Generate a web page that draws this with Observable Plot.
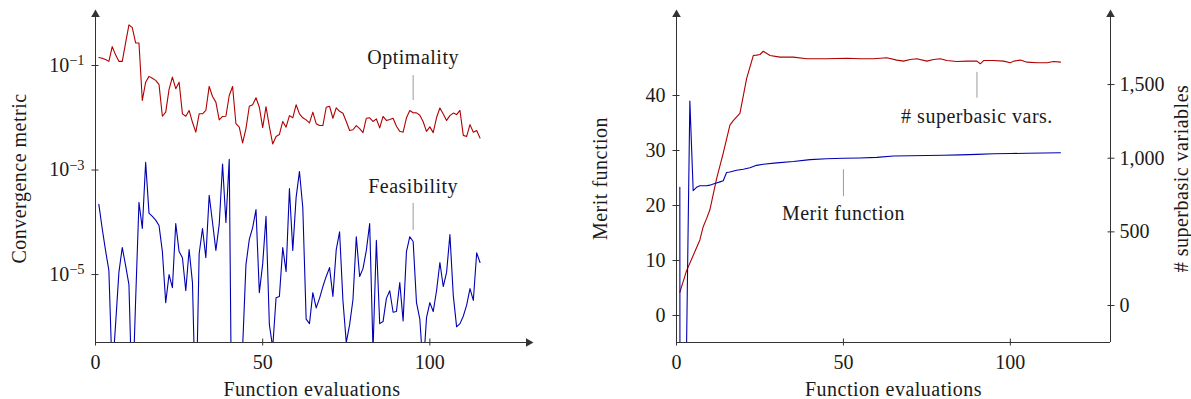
<!DOCTYPE html>
<html><head><meta charset="utf-8">
<script src="https://cdn.jsdelivr.net/npm/d3@7"></script>
<script src="https://cdn.jsdelivr.net/npm/@observablehq/plot@0.6"></script>
<style>
body{margin:0;background:#fff;}
#wrap{display:flex;width:1191px;height:399px;overflow:hidden;}
#wrap svg{font-family:"Liberation Serif",serif;overflow:visible;}
.lbl{letter-spacing:0.5px;}
</style></head><body><div id="wrap"></div>
<script>
// ---------- data ----------
const evaluations = d3.range(1, 116);
const optimality = [
 0.142,0.138,0.13,0.12,0.23,0.16,0.12,0.12,0.27,0.60,
 0.53,0.27,0.27,0.0214,0.048,0.062,0.057,0.052,0.043,0.0107,
 0.0128,0.035,0.060,0.036,0.048,0.0119,0.0107,0.0138,0.0082,0.0053,
 0.0119,0.0119,0.0138,0.040,0.0255,0.0199,0.0091,0.0106,0.0107,0.0267,
 0.0396,0.0077,0.0066,0.0033,0.0062,0.0166,0.0177,0.0241,0.0159,0.0065,
 0.0163,0.0068,0.00315,0.0044,0.0048,0.0085,0.0066,0.011,0.010,0.0177,
 0.0119,0.010,0.0091,0.0080,0.0128,0.0077,0.0071,0.0071,0.0159,0.0166,
 0.0098,0.0155,0.0133,0.0122,0.0085,0.0057,0.0059,0.0071,0.0062,0.0052,
 0.0098,0.010,0.0085,0.0095,0.0064,0.0106,0.0089,0.0093,0.0098,0.0069,
 0.0055,0.0053,0.010,0.0138,0.0125,0.0124,0.0112,0.0084,0.0055,0.0067,
 0.0052,0.0101,0.0154,0.0118,0.0089,0.0110,0.0123,0.0115,0.0138,0.0046,
 0.0044,0.0074,0.0053,0.0057,0.0041];
const feasibility = [
 2.2e-4,7.6e-5,2.9e-5,1.2e-5,1.2e-7,1.1e-6,1.1e-5,3.3e-5,1.5e-5,6.4e-6,
 3.1e-8,3.2e-6,2.4e-4,7.6e-5,1.4e-3,1.5e-4,1.3e-4,1.1e-4,8.7e-5,2.75e-5,
 2.9e-6,1.0e-5,5.6e-6,9.5e-5,2.75e-5,2.1e-5,4.9e-6,3.0e-5,7.0e-6,1.6e-8,
 2.5e-5,7.6e-5,2.1e-5,3.3e-4,9.9e-5,2.9e-5,9.1e-5,1.3e-3,9.9e-5,1.6e-3,
 1.6e-10,1e-20,1e-20,4.0e-7,1.55e-5,4.7e-5,7.9e-5,1.75e-4,4.5e-6,1.6e-5,
 1.3e-4,1.1e-6,4.0e-7,3.6e-6,3.8e-6,3.3e-5,1.14e-5,4.4e-4,2.9e-5,3.0e-4,
 9.4e-4,1.9e-4,1.4e-6,1.15e-6,4.5e-6,2.3e-6,3.5e-6,5.9e-6,9.2e-6,1.36e-5,
 3.8e-6,3.0e-5,6.6e-5,3.2e-6,5.0e-7,1.1e-6,3.3e-6,5.3e-5,9.2e-6,1.3e-5,
 2.9e-5,9.5e-5,3.5e-7,4.5e-5,1.15e-6,1.26e-6,3.5e-6,4.9e-6,1.9e-6,1.96e-6,
 7.0e-6,1.3e-6,2.75e-5,5.3e-5,4.3e-5,2.9e-6,1.4e-6,1.5e-7,1.5e-6,2.9e-6,
 1.96e-6,4.9e-6,1.7e-5,5.9e-6,1.1e-5,5.8e-5,4.0e-6,1.0e-6,1.15e-6,1.6e-6,
 2.6e-6,5.4e-6,3.2e-6,2.6e-5,1.7e-5];

const meritEvals  = [1,2,3,4,5,6,7,8,9,10,11,12,13,14,15,16,18,20,22,24,26,30,35,40,45,50,55,60,65,70,75,80,85,90,95,100,105,110,115];
const meritValues = [23.3,-1000,-6,39.0,22.7,23.3,23.6,23.6,23.6,23.7,23.9,24.1,24.3,24.5,26.0,26.1,26.4,26.6,26.85,27.3,27.5,27.75,28.0,28.35,28.5,28.6,28.65,28.75,29.0,29.05,29.1,29.15,29.2,29.3,29.4,29.45,29.5,29.55,29.6];

const superbasicEvals  = [1,3,5,7,8,9,10,12,14,16,17,19,21,23,24,25,26,28,31,35,39,45,51,55,59,63,66,68,70,72,75,77,79,81,84,87,90,91,92,95,98,100,101,103,105,108,111,113,115];
const superbasicCounts = [90,235,340,445,535,590,650,860,1035,1225,1255,1305,1540,1697,1700,1704,1726,1697,1686,1686,1675,1675,1679,1675,1675,1682,1666,1659,1670,1675,1659,1670,1675,1663,1656,1659,1659,1641,1663,1663,1659,1648,1659,1666,1652,1648,1648,1656,1652];

const evalTicks = [0, 50, 100];
const convTicks = [1e-1, 1e-3, 1e-5];
const convTickLabels = ["10⁻¹", "10⁻³", "10⁻⁵"];
const convTickExps = ["−1", "−3", "−5"];
const meritTicks = [0, 10, 20, 30, 40];
const superbasicTicks = [0, 500, 1000, 1500];

const convNotes = [
  {text: "Optimality",  x: 95, yText: 0.142,  yFrom: 0.064,  yTo: 0.0214},
  {text: "Feasibility", x: 95, yText: 4.8e-4, yFrom: 2.3e-4, yTo: 7.0e-5}
];
const meritNotes = [
  {text: "Merit function",     x: 50, yText: 18.5, yFrom: 26.5, yTo: 21.6},
  {text: "# superbasic vars.", x: 90, yText: 36.2, yFrom: 44.2, yTo: 39.5}
];

// ---------- scales ----------
const xMax = 129.5;
const convDomain = [Math.pow(10, -6.3), Math.pow(10, -0.024)];
const meritDomain = [-4.91, 54.73];
const superbasicDomain = [-251, 1975.5];
const sbToMerit = s => meritDomain[0] + (s - superbasicDomain[0]) * (meritDomain[1] - meritDomain[0]) / (superbasicDomain[1] - superbasicDomain[0]);
const meritToSb = m => superbasicDomain[0] + (m - meritDomain[0]) * (superbasicDomain[1] - superbasicDomain[0]) / (meritDomain[1] - meritDomain[0]);

const RED = "#b00000", BLUE = "#0000b0", AX = "#333", NOTE = "#9a9a9a", TXT = "#1a1a1a";
const FS = 20;

const convData = evaluations.map((e, i) => ({e, opt: optimality[i], feas: feasibility[i]}));
const meritData = meritEvals.map((e, i) => ({e, v: meritValues[i]}));
const sbData = superbasicEvals.map((e, i) => ({e, v: sbToMerit(superbasicCounts[i])}));

const left = Plot.plot({
  width: 580, height: 399,
  marginLeft: 95, marginRight: 52, marginTop: 14, marginBottom: 57,
  style: {fontFamily: "Liberation Serif", background: "white"},
  x: {domain: [0, xMax]},
  y: {type: "log", domain: convDomain},
  marks: [
    Plot.line(convData, {x: "e", y: "opt", stroke: RED, strokeWidth: 1.1, clip: true}),
    Plot.line(convData, {x: "e", y: "feas", stroke: BLUE, strokeWidth: 1.1, clip: true}),
    Plot.ruleX(convNotes, {x: "x", y1: "yFrom", y2: "yTo", stroke: NOTE, strokeWidth: 1}),
    Plot.text(convNotes, {x: "x", y: "yText", text: "text", fontSize: FS, fill: TXT, lineAnchor: "middle", className: "lbl"}),
    Plot.ruleX([0], {y1: convDomain[0], y2: convDomain[1], stroke: AX, strokeWidth: 1}),
    Plot.ruleY([convDomain[0]], {x1: 0, x2: xMax, stroke: AX, strokeWidth: 1}),
    Plot.dot([{x: 0, y: convDomain[1]}], {x: "x", y: "y", symbol: "triangle", r: 3.2, fill: AX, stroke: null}),
    Plot.dot([{x: xMax, y: convDomain[0]}], {x: "x", y: "y", symbol: "triangle", r: 3.2, fill: AX, stroke: null, rotate: 90}),
    Plot.axisY({ticks: convTicks, tickSize: 7, dx: 3.5, tickFormat: () => "", stroke: AX}),
    Plot.axisY({ticks: convTicks, tickSize: 0, tickPadding: 11, fontSize: FS, fill: TXT,
      tickFormat: d => convTickLabels[convTicks.indexOf(d)]}),
    Plot.axisX({ticks: evalTicks, tickSize: 7, dy: -3.5, tickFormat: () => "", stroke: AX}),
    Plot.axisX({ticks: evalTicks, tickSize: 0, tickPadding: 12, fontSize: FS, fill: TXT}),
    Plot.text(["Function evaluations"], {frameAnchor: "bottom", lineAnchor: "middle", dy: 47, fontSize: FS, fill: TXT, className: "lbl"}),
    Plot.text(["Convergence metric"], {frameAnchor: "left", textAnchor: "middle", dx: -76, rotate: -90, fontSize: FS, fill: TXT, className: "lbl"})
  ]
});

const right = Plot.plot({
  width: 611, height: 399,
  marginLeft: 96, marginRight: 81, marginTop: 14, marginBottom: 57,
  style: {fontFamily: "Liberation Serif", background: "white"},
  x: {domain: [0, xMax + 0.5]},
  y: {domain: meritDomain},
  marks: [
    Plot.line(sbData, {x: "e", y: "v", stroke: RED, strokeWidth: 1.1, clip: true}),
    Plot.line(meritData, {x: "e", y: "v", stroke: BLUE, strokeWidth: 1.1, clip: true}),
    Plot.ruleX(meritNotes, {x: "x", y1: "yFrom", y2: "yTo", stroke: NOTE, strokeWidth: 1}),
    Plot.text(meritNotes, {x: "x", y: "yText", text: "text", fontSize: FS, fill: TXT, lineAnchor: "middle", className: "lbl"}),
    Plot.ruleX([0, xMax + 0.5], {y1: meritDomain[0], y2: meritDomain[1], stroke: AX, strokeWidth: 1}),
    Plot.ruleY([meritDomain[0]], {x1: 0, x2: xMax + 0.5, stroke: AX, strokeWidth: 1}),
    Plot.dot([{x: 0, y: meritDomain[1]}, {x: xMax + 0.5, y: meritDomain[1]}], {x: "x", y: "y", symbol: "triangle", r: 3.2, fill: AX, stroke: null}),
    Plot.axisY({ticks: meritTicks, tickSize: 7, dx: 3.5, tickFormat: () => "", stroke: AX}),
    Plot.axisY({ticks: meritTicks, tickSize: 0, tickPadding: 11, fontSize: FS, fill: TXT}),
    Plot.axisY({anchor: "right", ticks: superbasicTicks.map(sbToMerit), tickSize: 7, dx: -3.5, tickFormat: () => "", stroke: AX}),
    Plot.axisY({anchor: "right", ticks: superbasicTicks.map(sbToMerit), tickSize: 0, tickPadding: 9, fontSize: FS, fill: TXT,
      tickFormat: d => d3.format(",")(Math.round(meritToSb(d)))}),
    Plot.axisX({ticks: evalTicks, tickSize: 7, dy: -3.5, tickFormat: () => "", stroke: AX}),
    Plot.axisX({ticks: evalTicks, tickSize: 0, tickPadding: 12, fontSize: FS, fill: TXT}),
    Plot.text(["Function evaluations"], {frameAnchor: "bottom", lineAnchor: "middle", dy: 47, fontSize: FS, fill: TXT, className: "lbl"}),
    Plot.text(["Merit function"], {frameAnchor: "left", textAnchor: "middle", dx: -76, rotate: -90, fontSize: FS, fill: TXT, className: "lbl"}),
    Plot.text(["# superbasic variables"], {frameAnchor: "right", textAnchor: "middle", dx: 71, rotate: -90, fontSize: FS, fill: TXT, className: "lbl"})
  ]
});

// superscript exponents on the log tick labels
left.querySelectorAll("text").forEach(t => {
  const k = convTickLabels.indexOf(t.textContent);
  if (k >= 0) {
    t.textContent = "10";
    const s = document.createElementNS("http://www.w3.org/2000/svg", "tspan");
    s.setAttribute("dy", "-0.45em");
    s.setAttribute("font-size", "0.72em");
    s.textContent = convTickExps[k];
    t.appendChild(s);
  }
});

document.getElementById("wrap").append(left, right);
</script>
</body></html>
